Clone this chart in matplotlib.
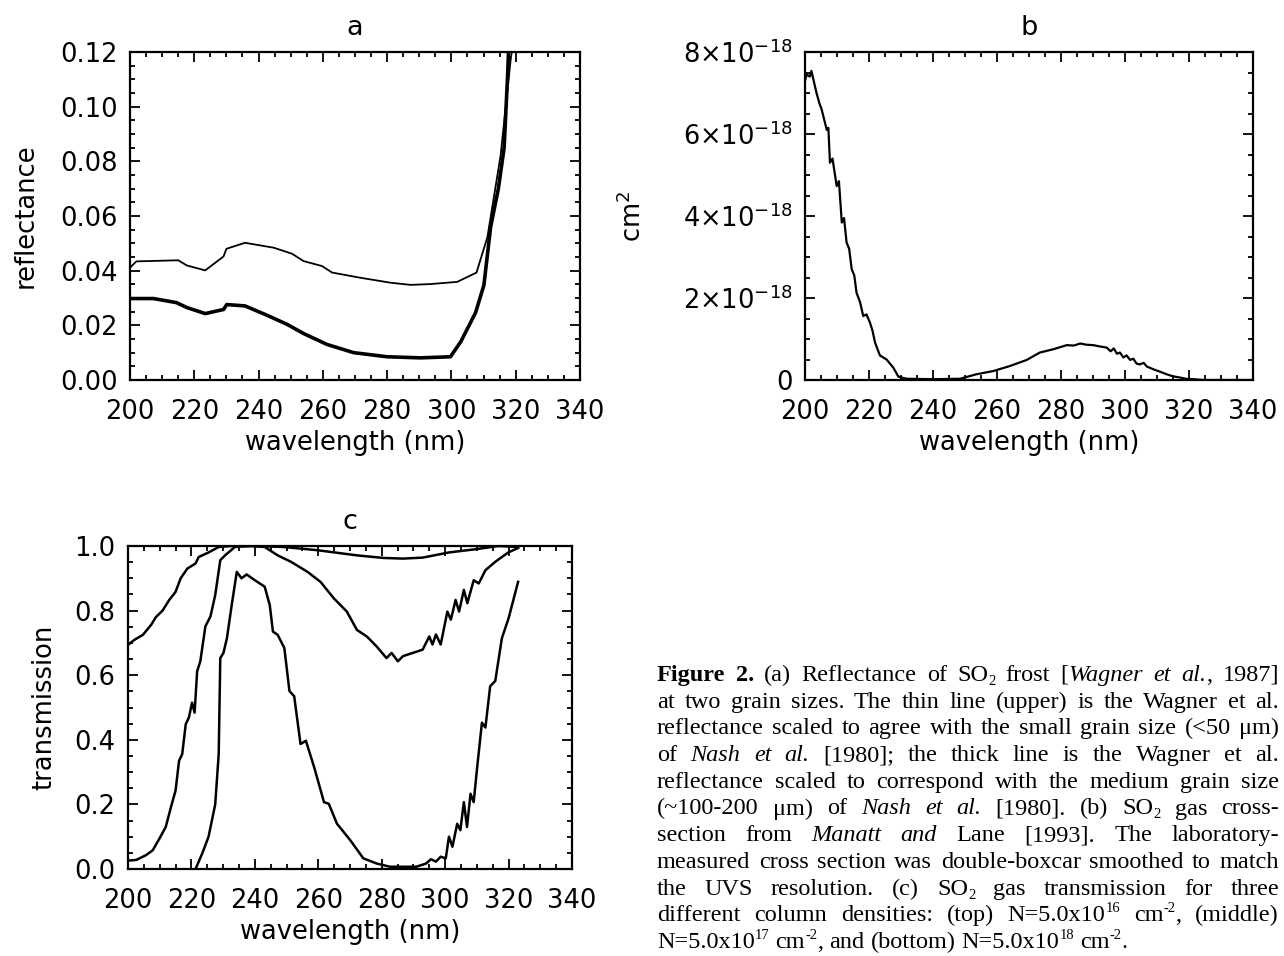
import numpy as np
import matplotlib.pyplot as plt
from matplotlib.ticker import MultipleLocator, FixedLocator, FuncFormatter
from matplotlib.transforms import IdentityTransform

# --- panel a: SO2 frost reflectance (two grain sizes) ---
thin_wl = [200, 202, 215, 217.7, 223.4, 229.1, 230, 235.8, 244.7, 250.4, 254,
           259.7, 262.9, 271.7, 281, 287.3, 293.5, 301.8, 307.8, 311.2, 315.3,
           318.5, 320]
thin_refl = [0.0411, 0.0434, 0.0438, 0.0419, 0.0401, 0.0452, 0.048, 0.0502,
             0.0484, 0.0462, 0.0435, 0.0417, 0.0393, 0.0374, 0.0356, 0.0348,
             0.0351, 0.0359, 0.0393, 0.0523, 0.0821, 0.118, 0.128]
thick_wl = [200, 207.3, 214.5, 217.7, 223.4, 229.1, 230.1, 235.8, 242.6, 248.8,
            254, 261.3, 269.6, 280, 290.4, 299.7, 302.9, 307.5, 310.1, 312.2,
            314.6, 316.4, 317.5, 318]
thick_refl = [0.0298, 0.0298, 0.0283, 0.0265, 0.0243, 0.0258, 0.0276, 0.0271,
              0.0237, 0.0204, 0.017, 0.013, 0.010, 0.0085, 0.0081, 0.0085,
              0.014, 0.0246, 0.0347, 0.056, 0.0700, 0.085, 0.112, 0.128]

# --- panel b: SO2 gas cross section (units of 1e-18 cm^2) ---
xsec_wl = [200, 200.5, 201.5, 202, 203, 203.6, 204.5, 205.2, 206, 206.8, 207.3,
           207.8, 208.6, 209.9, 210.6, 211.5, 212.2, 213, 213.8, 214.6, 215.4,
           216.1, 217.2, 218.2, 219.2, 220.3, 221.1, 221.9, 223.4, 225.5,
           227.6, 229.2, 231.8, 240, 248.4, 253.6, 258.9, 264, 269.3, 273.4,
           277.6, 281.8, 284, 286, 288, 290.1, 292, 294.3, 295.5, 296.5, 297.5,
           298.4, 299.5, 300.5, 301.6, 302.6, 303.6, 304.7, 305.8, 306.8,
           308.9, 311, 313, 315, 317.2, 319, 321.4, 324.5, 330, 340]
xsec = [7.30, 7.45, 7.40, 7.54, 7.20, 7.00, 6.75, 6.60, 6.35, 6.10, 6.15,
        5.30, 5.40, 4.73, 4.85, 3.84, 3.95, 3.35, 3.20, 2.70, 2.55, 2.13,
        1.90, 1.56, 1.60, 1.40, 1.20, 0.91, 0.60, 0.50, 0.30, 0.08, 0.03,
        0.02, 0.03, 0.14, 0.22, 0.34, 0.49, 0.67, 0.75, 0.85, 0.84, 0.89,
        0.86, 0.85, 0.82, 0.79, 0.70, 0.77, 0.64, 0.67, 0.55, 0.60, 0.49,
        0.52, 0.40, 0.38, 0.42, 0.33, 0.26, 0.20, 0.14, 0.09, 0.06, 0.03,
        0.02, 0.0, 0.0, 0.0]

# --- panel c: SO2 gas transmission for three column densities ---
top_wl = [200, 202.1, 204.7, 207.3, 208.8, 210.9, 213, 215, 216.6, 218.7,
          221.3, 222.3, 225.4, 228.6, 232.7, 240, 249, 259.7, 272.2, 280.5,
          286.7, 292.9, 301.2, 309.6, 316.8, 323]
top_tr = [0.694, 0.71, 0.725, 0.756, 0.78, 0.80, 0.833, 0.858, 0.90, 0.93,
          0.946, 0.966, 0.98, 0.997, 1.0, 1.0, 0.997, 0.987, 0.971, 0.963,
          0.961, 0.964, 0.98, 0.99, 1.0, 0.997]
mid_wl = [200, 202.6, 205.7, 207.8, 209.9, 211.9, 213.5, 215, 216.1, 217.1,
          218.2, 219.2, 220.2, 221, 221.8, 222.8, 224.4, 226, 227.5, 229.1,
          230.6, 233.7, 238.9, 243.1, 247.2, 251.4, 256.6, 260.7, 264.9, 269,
          272.2, 275.3, 278.4, 281.5, 283.1, 285.1, 286.7, 289.8, 292.9, 295,
          296, 297.1, 298.6, 300.7, 301.8, 303.3, 304.4, 305.9, 307, 309,
          310.6, 312.7, 315.8, 319.9, 323]
mid_tr = [0.026, 0.028, 0.043, 0.058, 0.094, 0.13, 0.19, 0.243, 0.335, 0.356,
          0.448, 0.469, 0.515, 0.484, 0.612, 0.643, 0.751, 0.782, 0.848, 0.956,
          0.971, 0.997, 1.0, 0.997, 0.971, 0.951, 0.92, 0.889, 0.838, 0.797,
          0.74, 0.72, 0.689, 0.653, 0.669, 0.643, 0.659, 0.669, 0.679, 0.72,
          0.695, 0.726, 0.695, 0.797, 0.772, 0.833, 0.797, 0.864, 0.823,
          0.894, 0.884, 0.925, 0.951, 0.98, 0.994]
bot_wl = [221.3, 223.4, 225.4, 227.5, 228.6, 229.1, 230.1, 231.2, 232.7, 234.3,
          235.8, 237.4, 240, 243.1, 244.7, 245.7, 247.2, 249.3, 250.9, 252.4,
          254.4, 256.1, 258.7, 261.8, 263.3, 265.9, 270.1, 274.2, 278.4,
          282.6, 290.9, 294, 295.5, 297.1, 298.6, 300.2, 301.2, 302.3, 303.8,
          304.8, 305.9, 306.9, 308, 309, 310.1, 311.6, 312.7, 314.2, 315.8,
          317.9, 320, 323]
bot_tr = [0.0, 0.048, 0.10, 0.20, 0.356, 0.653, 0.669, 0.715, 0.817, 0.92,
          0.90, 0.912, 0.894, 0.874, 0.817, 0.735, 0.725, 0.684, 0.551, 0.535,
          0.387, 0.397, 0.315, 0.207, 0.202, 0.14, 0.089, 0.033, 0.017, 0.007,
          0.007, 0.017, 0.03, 0.023, 0.038, 0.033, 0.10, 0.069, 0.14, 0.12,
          0.207, 0.13, 0.233, 0.207, 0.315, 0.453, 0.438, 0.566, 0.582, 0.715,
          0.776, 0.889]

caption_lines = [
    "#Figure 2.#  (a) Reflectance of SO_{2} frost [*Wagner et al.*, 1987]",
    "at two grain sizes.  The thin line (upper) is the Wagner et al.",
    "reflectance scaled to agree with the small grain size (<50 \u03bcm)",
    "of *Nash et al.* [1980]; the thick line is the Wagner et al.",
    "reflectance scaled to correspond with the medium grain size",
    "(~100-200 \u03bcm) of *Nash et al.* [1980].  (b) SO_{2} gas cross-",
    "section from *Manatt and* Lane [1993].  The laboratory-",
    "measured cross section was double-boxcar smoothed to match",
    "the UVS resolution.  (c) SO_{2} gas transmission for three",
    "different column densities: (top) N=5.0x10^{16} cm^{-2}, (middle)",
    "N=5.0x10^{17} cm^{-2}, and (bottom) N=5.0x10^{18} cm^{-2}.",
]

FS = 18.5
plt.rcParams['font.family'] = 'DejaVu Sans'

fig = plt.figure(figsize=(12.84, 9.56), dpi=100)
ax_a = fig.add_axes([130 / 1284, 1 - 380 / 956, 450 / 1284, 328 / 956])
ax_b = fig.add_axes([805 / 1284, 1 - 380 / 956, 448 / 1284, 328 / 956])
ax_c = fig.add_axes([128 / 1284, 1 - 869 / 956, 444 / 1284, 323 / 956])


def style(ax):
    ax.tick_params(which='both', direction='in', top=True, right=True,
                   width=1.3, labelsize=FS, color='black')
    ax.tick_params(which='major', length=7)
    ax.tick_params(which='minor', length=3.5)
    ax.tick_params(axis='x', which='major', pad=14)
    ax.tick_params(axis='y', which='major', pad=9)
    for s in ax.spines.values():
        s.set_linewidth(1.6)
    ax.set_xlim(200, 340)
    ax.xaxis.set_major_locator(MultipleLocator(20))
    ax.xaxis.set_minor_locator(MultipleLocator(5))
    ax.set_xlabel('wavelength (nm)', fontsize=FS, labelpad=3)


# a
ax_a.plot(thin_wl, thin_refl, color='black', lw=1.3)
ax_a.plot(thick_wl, thick_refl, color='black', lw=2.6)
style(ax_a)
ax_a.set_ylim(0, 0.12)
ax_a.yaxis.set_major_locator(MultipleLocator(0.02))
ax_a.yaxis.set_minor_locator(MultipleLocator(0.005))
ax_a.yaxis.set_major_formatter(FuncFormatter(lambda v, p: f'{v:.2f}'))
ax_a.set_ylabel('reflectance', fontsize=FS, labelpad=15)
ax_a.set_title('a', fontsize=FS + 1, pad=12)

# b
ax_b.plot(xsec_wl, np.array(xsec) * 1e-18, color='black', lw=1.6)
style(ax_b)
ax_b.set_ylim(0, 8e-18)
ax_b.yaxis.set_major_locator(FixedLocator([0, 2e-18, 4e-18, 6e-18, 8e-18]))
ax_b.yaxis.set_minor_locator(MultipleLocator(0.5e-18))


def sci(v, p):
    m = round(v / 1e-18)
    return '0' if m == 0 else rf'${m}{{\times}}10^{{-18}}$'


ax_b.yaxis.set_major_formatter(FuncFormatter(sci))
ax_b.set_ylabel(r'cm$^2$', fontsize=FS, labelpad=26)
ax_b.set_title('b', fontsize=FS + 1, pad=12)

# c
for wl, tr in [(top_wl, top_tr), (mid_wl, mid_tr), (bot_wl, bot_tr)]:
    ax_c.plot(wl, tr, color='black', lw=1.8)
style(ax_c)
ax_c.set_ylim(0, 1.0)
ax_c.yaxis.set_major_locator(MultipleLocator(0.2))
ax_c.yaxis.set_minor_locator(MultipleLocator(0.05))
ax_c.yaxis.set_major_formatter(FuncFormatter(lambda v, p: f'{v:.1f}'))
ax_c.set_ylabel('transmission', fontsize=FS, labelpad=12)
ax_c.set_title('c', fontsize=FS + 1, pad=12)


# --- caption: justified serif text, word by word ---
def parse(line, state):
    words = []
    for raw in line.split():
        segs, buf, i = [], '', 0
        while i < len(raw):
            c = raw[i]
            if c in '*#':
                if buf:
                    segs.append((buf, state['it'], state['bf'], 0))
                    buf = ''
                key = 'it' if c == '*' else 'bf'
                state[key] = not state[key]
                i += 1
            elif c in '_^' and i + 1 < len(raw) and raw[i + 1] == '{':
                if buf:
                    segs.append((buf, state['it'], state['bf'], 0))
                    buf = ''
                j = raw.index('}', i)
                segs.append((raw[i + 2:j], state['it'], state['bf'],
                             -1 if c == '_' else 1))
                i = j + 1
            else:
                buf += c
                i += 1
        if buf:
            segs.append((buf, state['it'], state['bf'], 0))
        words.append(segs)
    return words


renderer = fig.canvas.get_renderer()
CFS = 17.5
x0, W = 657, 622
base0, lead = 956 - 681, 26.7
state = {'it': False, 'bf': False}

probe = fig.text(0, 0, 'a a', fontsize=CFS, family='Liberation Serif')
probe2 = fig.text(0, 0, 'aa', fontsize=CFS, family='Liberation Serif')
space = (probe.get_window_extent(renderer).width
         - probe2.get_window_extent(renderer).width)
probe.remove()
probe2.remove()

for li, line in enumerate(caption_lines):
    words = parse(line, state)
    placed = []
    for segs in words:
        objs = []
        wsum = 0
        for txt, it, bf, script in segs:
            t = fig.text(0, 0, txt, transform=IdentityTransform(),
                         family='Liberation Serif',
                         fontsize=CFS if script == 0 else CFS * 0.6,
                         fontstyle='italic' if it else 'normal',
                         fontweight='bold' if bf else 'normal',
                         ha='left', va='baseline')
            w = t.get_window_extent(renderer).width
            objs.append((t, wsum, script))
            wsum += w
        placed.append((objs, wsum))
    total = sum(w for _, w in placed)
    if li < len(caption_lines) - 1 and len(placed) > 1:
        gap = max((W - total) / (len(placed) - 1), space * 0.8)
    else:
        gap = space
    y = base0 - li * lead
    x = x0
    for objs, w in placed:
        for t, off, script in objs:
            dy = -4 if script < 0 else (9 if script > 0 else 0)
            t.set_position((x + off, y + dy))
        x += w + gap

fig.savefig('out.png', dpi=100)
